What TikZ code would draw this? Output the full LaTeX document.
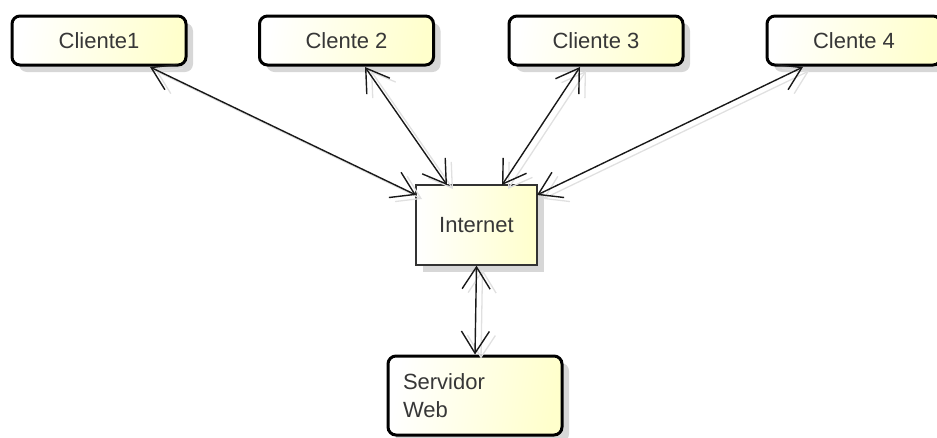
\documentclass[tikz,border=0pt]{standalone}
\usepackage{fontspec}
\setmainfont{Liberation Sans}
\usetikzlibrary{arrows.meta,shadows}
\definecolor{boxyel}{RGB}{255,255,204}
\definecolor{txt}{RGB}{55,55,55}
\definecolor{shad}{RGB}{215,215,215}
\tikzset{
  client/.style={draw=black, line width=3pt, rounded corners=8pt,
    left color=white, right color=boxyel, shading angle=80,
    minimum width=174pt, minimum height=49pt, inner sep=0pt,
    text=txt, font=\fontsize{22}{28}\selectfont,
    drop shadow={shadow xshift=7pt, shadow yshift=-7pt, fill=shad, opacity=1}},
  netbox/.style={draw=black!80, line width=1.3pt,
    left color=white, right color=boxyel,
    minimum width=121pt, minimum height=80pt, inner sep=0pt,
    text=txt, font=\fontsize{22}{28}\selectfont,
    drop shadow={shadow xshift=7pt, shadow yshift=-7pt, fill=shad, opacity=1}},
  link/.style={line width=1.4pt, draw=black!90,
    {Straight Barb[length=22pt,width=28pt,line width=1.4pt]}-{Straight Barb[length=22pt,width=28pt,line width=1.4pt]},
    preaction={draw=black!12, line width=1.3pt, transform canvas={shift={(6pt,-4pt)}},
    {Straight Barb[length=22pt,width=28pt,line width=1.3pt]}-{Straight Barb[length=22pt,width=28pt,line width=1.3pt]}}}
}
\begin{document}
\begin{tikzpicture}[x=1pt,y=-1pt]
\useasboundingbox (0,0) rectangle (937,437);
\node[client] (c1) at (99,40.5) {Cliente1};
\node[client] (c2) at (346.5,40.5) {Clente 2};
\node[client] (c3) at (596,40.5) {Cliente 3};
\node[client] (c4) at (854,40.5) {Clente 4};
\node[netbox] (net) at (476.5,225) {Internet};
\node[client, minimum height=79pt, align=left, text width=144pt, inner xsep=15pt] (srv) at (475,395.5) {Servidor\\Web};
\coordinate (n1) at (416,195);
\coordinate (n2) at (447,185);
\coordinate (n3) at (502,185);
\coordinate (n4) at (537,195);
\coordinate (k1) at (150,67);
\coordinate (k2) at (365,67);
\coordinate (k3) at (580,67);
\coordinate (k4) at (803,67);
\draw[link] (k1) -- (n1);
\draw[link] (k2) -- (n2);
\draw[link] (k3) -- (n3);
\draw[link] (k4) -- (n4);
\draw[link] (net.south) -- (srv.north);
\end{tikzpicture}
\end{document}
